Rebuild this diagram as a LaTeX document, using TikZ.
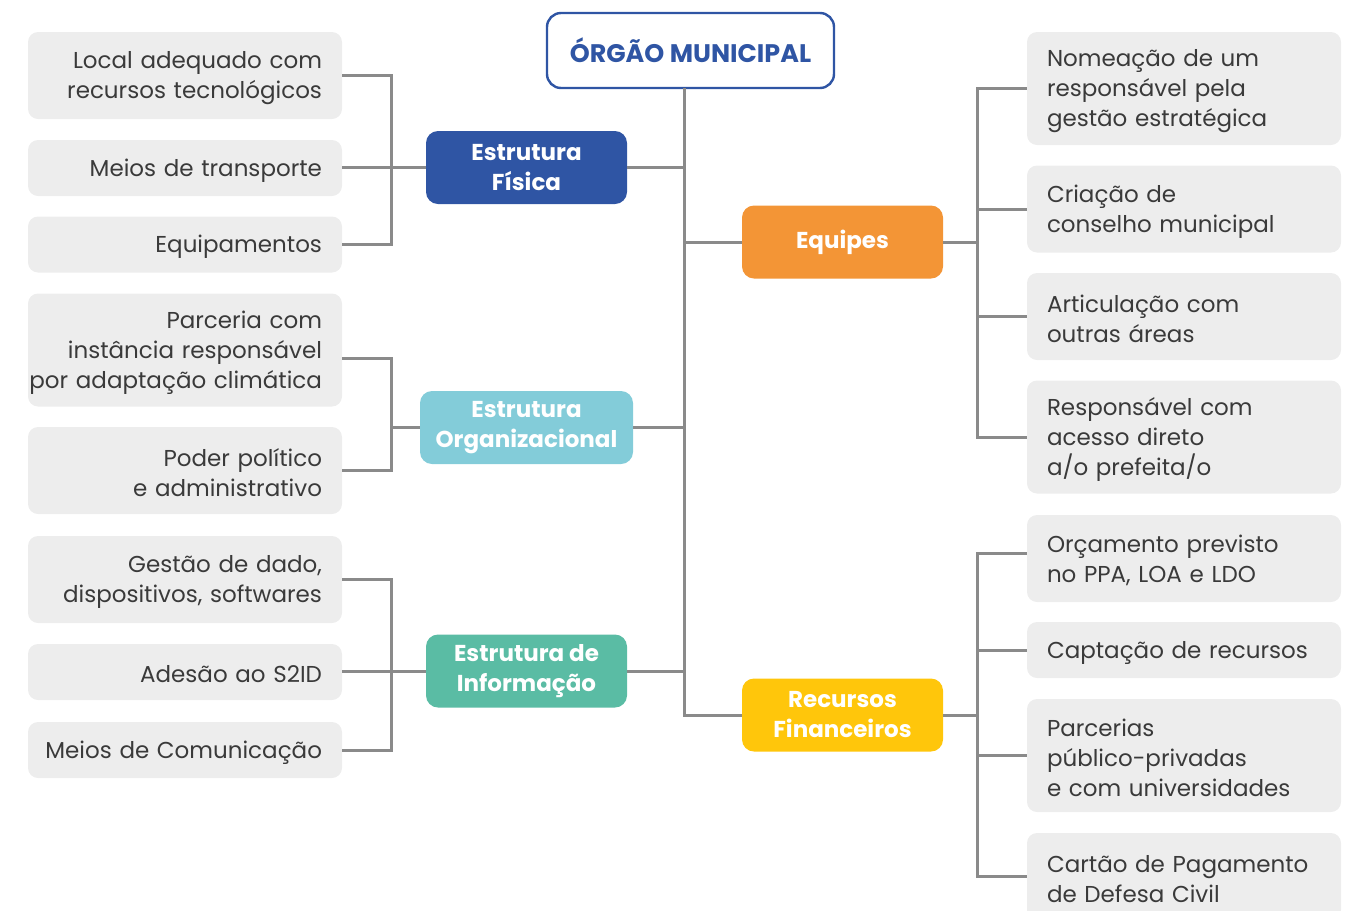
\documentclass[tikz,border=0pt]{standalone}
\usepackage{fontspec}
\setmainfont{Poppins}
\usetikzlibrary{positioning}
\definecolor{orgblue}{HTML}{2F55A4}
\definecolor{equorange}{HTML}{F39536}
\definecolor{orgcyan}{HTML}{83CCD9}
\definecolor{infteal}{HTML}{5ABCA4}
\definecolor{recyellow}{HTML}{FFC60B}
\definecolor{itemgray}{HTML}{EDEDED}
\definecolor{textgray}{HTML}{3A3A3A}
\definecolor{linegray}{HTML}{8A8A8A}

\begin{document}
\begin{tikzpicture}[x=0.5pt, y=-0.5pt, line/.style={draw=linegray, line width=1.5pt}, font=\fontsize{11.5}{15}\selectfont]
    % Define styles for items and groups
    \tikzstyle{item} = [fill=itemgray, rounded corners=5pt, text=textgray, text width=147pt, text height=11pt, inner xsep=5pt, inner ysep=2pt]
    \tikzstyle{leftitem} = [item, align=right, execute at begin node={\leftskip=-10pt plus 1fill\rightskip=5pt\hyphenpenalty=10000}]
    \tikzstyle{rightitem} = [item, align=left, execute at begin node={\leftskip=5pt\hyphenpenalty=10000}]
    \tikzstyle{group} = [rounded corners=6pt, text=white, font=\fontsize{11.5}{15}\selectfont\bfseries, minimum width=100.5pt, minimum height=36.5pt, align=center, inner sep=2pt]

    \useasboundingbox (0,0) rectangle (1362,911);

    % Nodes placement
    \node [draw=orgblue, line width=1.2pt, rounded corners=7pt, fill=white, minimum width=143.5pt, minimum height=37.5pt, text=orgblue, font=\fontsize{12.7}{15}\selectfont\bfseries] (org) at (690.5,50.5) {ÓRGÃO MUNICIPAL};
    \coordinate (trunk) at (684.5,88);

    \node [group, fill=orgblue] (fis) at (526.5,167.5) {Estrutura\\Física};
    \node [group, fill=equorange] (equ) at (842.5,242) {Equipes};
    \node [group, fill=orgcyan, minimum width=106.5pt] (eorg) at (526.5,427.5) {Estrutura\\Organizacional};
    \node [group, fill=infteal] (inf) at (526.5,671) {Estrutura de\\Informação};
    \node [group, fill=recyellow] (rec) at (842.5,715) {Recursos\\Financeiros};

    \node [leftitem, minimum height=43.5pt] (loc) at (185,75.5) {Local adequado com\\recursos tecnológicos};
    \node [leftitem, minimum height=28pt] (tra) at (185,168) {Meios de transporte};
    \node [leftitem, minimum height=28pt] (eqp) at (185,244.5) {Equipamentos};
    \node [leftitem, minimum height=56.5pt] (par) at (185,350) {Parceria com\\instância responsável\\por adaptação climática};
    \node [leftitem, minimum height=43.5pt] (pod) at (185,470.5) {Poder político\\e administrativo};
    \node [leftitem, minimum height=43.5pt] (ges) at (185,579.5) {Gestão de dado,\\dispositivos, softwares};
    \node [leftitem, minimum height=28pt] (ade) at (185,672) {Adesão ao S2ID};
    \node [leftitem, minimum height=28pt] (mei) at (185,750) {Meios de Comunicação};

    \node [rightitem, minimum height=56.5pt] (nom) at (1184,88.5) {Nomeação de um\\responsável pela\\gestão estratégica};
    \node [rightitem, minimum height=43.5pt] (cri) at (1184,209) {Criação de\\conselho municipal};
    \node [rightitem, minimum height=43.5pt] (art) at (1184,316.5) {Articulação com\\outras áreas};
    \node [rightitem, minimum height=56.5pt] (res) at (1184,437) {Responsável com\\acesso direto\\a/o prefeita/o};
    \node [rightitem, minimum height=43.5pt] (orc) at (1184,558.5) {Orçamento previsto\\no PPA, LOA e LDO};
    \node [rightitem, minimum height=28pt] (cap) at (1184,650) {Captação de recursos};
    \node [rightitem, minimum height=56.5pt] (pcr) at (1184,755.5) {Parcerias\\público-privadas\\e com universidades};
    \node [rightitem, minimum height=43.5pt] (car) at (1184,876.5) {Cartão de Pagamento\\de Defesa Civil};

    % Draw edges
    \draw[line] (trunk) |- (rec.west);
    \draw[line] (fis.east) -- (fis.east -| trunk);
    \draw[line] (equ.west) -- (equ.west -| trunk);
    \draw[line] (eorg.east) -- (eorg.east -| trunk);
    \draw[line] (inf.east) -- (inf.east -| trunk);

    % Left brackets
    \draw[line] (loc.east) -- ++(24.5pt,0) |- (eqp.east);
    \draw[line] (fis.west) -- (fis.west -| tra.east);
    \draw[line] ([yshift=-4pt]par.east) -- ++(24.5pt,0) |- (pod.east);
    \draw[line] (eorg.west) -- ++(-14.5pt,0);
    \draw[line] (ges.east) -- ++(24.5pt,0) |- (mei.east);
    \draw[line] (inf.west) -- (inf.west -| ade.east);

    % Right brackets
    \draw[line] (equ.east) -- ++(17.5pt,0);
    \draw[line] (nom.west) -- ++(-24.5pt,0) |- (res.west);
    \draw[line] (cri.west) -- ++(-24.5pt,0);
    \draw[line] (art.west) -- ++(-24.5pt,0);
    \draw[line] (rec.east) -- ++(17.5pt,0);
    \draw[line] ([yshift=2.75pt]orc.west) -- ++(-24.5pt,0) |- (car.west);
    \draw[line] (cap.west) -- ++(-24.5pt,0);
    \draw[line] (pcr.west) -- ++(-24.5pt,0);
\end{tikzpicture}
\end{document}
